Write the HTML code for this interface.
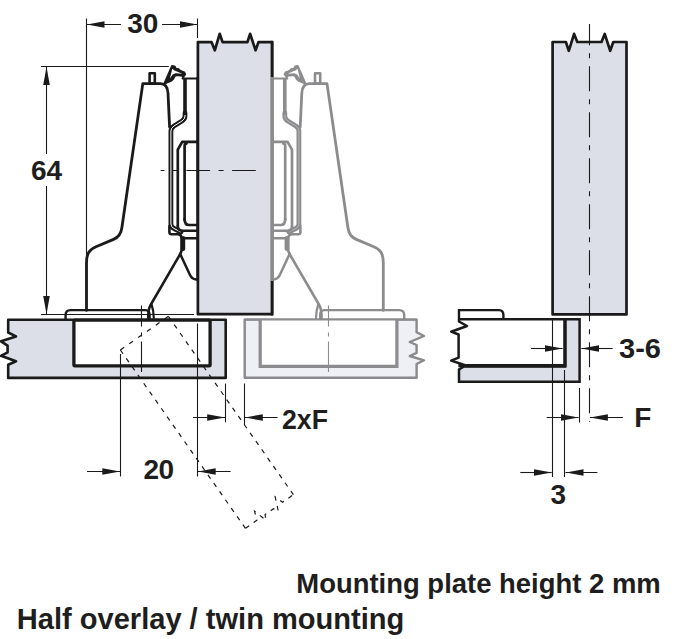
<!DOCTYPE html>
<html><head><meta charset="utf-8">
<style>
html,body{margin:0;padding:0;background:#fff;}
svg{display:block;}
text{font-family:"Liberation Sans",sans-serif;font-weight:bold;fill:#1e1e1e;}
</style></head><body>
<svg width="680" height="639" viewBox="0 0 680 639">
<defs>
<marker id="ar" viewBox="0 0 18 6.6" refX="18" refY="3.3" markerWidth="18" markerHeight="6.6" markerUnits="userSpaceOnUse" orient="auto-start-reverse">
<path d="M0,0 L18,3.3 L0,6.6 Z" fill="#1a1a1a"/>
</marker>
</defs>

<!-- ===== LEFT CABINET (black) ===== -->
<path d="M8.2,319.8 L225.7,319.8 L225.7,377.9 L8.2,377.9 L8.2,364.8 L16,361.3 L1,355.8 L7.6,352.3 L7.6,345.6 L1,341.3 L16,336.4 L8.2,332.5 Z" fill="#dcdfe7" stroke="#1a1a1a" stroke-width="2.6" stroke-linejoin="round"/>
<rect x="73.9" y="320.1" width="136.2" height="45.7" rx="1" fill="#fff" stroke="#1a1a1a" stroke-width="3.3"/>

<!-- ===== RIGHT CABINET (gray) ===== -->
<path d="M244.7,319.6 L416.6,319.6 L416.6,332.2 L424,336 L409.8,342 L416.6,345 L416.6,352.8 L409.8,356 L424,360.3 L416.6,364 L416.6,377.8 L244.7,377.8 Z" fill="#eef0f5" stroke="#8a8a8d" stroke-width="2.4" stroke-linejoin="round"/>
<path d="M260.2,319.6 L260.2,366.3 L396.9,366.3 L396.9,319.6 Z" fill="#fff" stroke="none"/>
<path d="M260.2,319.6 L260.2,366.3 L396.9,366.3 L396.9,319.6" fill="none" stroke="#8c8c8e" stroke-width="3.2"/>
<line x1="244.7" y1="319.6" x2="416.6" y2="319.6" stroke="#8c8c8e" stroke-width="2"/>

<!-- ===== LEFT DOOR ===== -->
<path d="M197.9,314.2 L197.9,42.1 L211.5,42.1 L214.8,50.3 L219.7,33.8 L222.6,42.1 L247.4,42.1 L250.1,33.8 L255.6,50.3 L258.5,42.1 L272.1,42.1 L272.1,314.2 Z" fill="#dcdfe7" stroke="#1a1a1a" stroke-width="2.7" stroke-linejoin="round"/>

<!-- ===== HINGE (black) ===== -->
<defs><g id="hinge" fill="none" stroke-linejoin="round" stroke-linecap="round">
  <!-- mounting plate -->
  <path d="M65.6,319 L65.6,315 Q65.6,310.1 70.5,310.1 L145.5,310.1 Q149.6,310.1 149.6,315 L149.6,319" stroke-width="2.4"/>
  <!-- arm body -->
  <path d="M86.5,310.4 L86.5,263 C86.5,253 89.5,249.5 96,246.8 L113.5,239.4 C119.5,237 121.2,233 121.9,227.5 L142.8,83.6 L160.5,83.6 C165.5,83.6 167.6,87.5 168,93 L169.6,127" stroke-width="2.8"/>
  <!-- peg -->
  <rect x="149.6" y="73.3" width="5.2" height="10.3" stroke-width="2.6"/>
  <!-- clip -->
  <path d="M164.4,84 L172.1,66.2 L174.5,66.6 L175.8,69.3 L178.3,69.2 L179.6,70.6 L181.5,71.5 L184.2,72.6 L185,74.5 L183.6,75.8 L180.5,75.4 L176.5,74.9 L174.5,76 L173.2,78.6 L171,80.6 L166.5,82.4 Z" fill="currentColor" stroke-width="2.3"/>
  <path d="M172.3,68.8 L169.9,78.4 L172.6,74.6 L175.6,73.2 L182.2,73.7 L176.4,71.3 L174.4,70.6 Z" fill="#fff" stroke="none"/>
  <!-- door edge cover -->
  <path d="M197.7,77 L197.7,281" stroke-width="2.7" stroke-linecap="butt"/>
  <!-- door plate top -->
  <path d="M183.4,75.9 Q182.4,77.6 184,78.3 M182.5,78.4 L197,78.4" stroke-width="2"/>
  <!-- sheet arm double line -->
  <path d="M185,78.5 L185,116" stroke-width="3.6" stroke-linecap="butt"/>
  <path d="M185,113 L185,116 Q185,119 182,121 L174,126 Q170.9,128 170.9,131 L170.9,224 Q170.9,227 174,228.5 L181,232" stroke-width="4.8"/>
  <path d="M185,115 L185,116 Q185,119 182,121 L174,126 Q170.9,128 170.9,131 L170.9,224 Q170.9,227 174,228.5 L181,232" style="stroke:var(--gap,#fff)" stroke-width="1" stroke-linecap="butt"/>
  <!-- outer bottom -->
  <path d="M169.4,226 L169.4,232 Q169.4,234.2 171.5,234.2 L178.1,234.2 Q181.5,234.5 181.5,238 L181.5,251 L180.2,254" stroke-width="2.6"/>
  <!-- inner cup-side piece -->
  <path d="M177.8,226 L177.8,149.6 L182.2,141.8 L197,141.8" stroke-width="2.7"/>
  <path d="M184.6,220 L184.6,146 Q184.6,143.6 186.5,143.6" stroke-width="2.7"/>
  <path d="M184.6,219 Q184.6,225 189,225 L197,225" stroke-width="2.7"/>
  <path d="M177.8,226 Q178,230.7 182,230.7 L197,230.7" stroke-width="2.6"/>
  <path d="M185,238.2 L197,238.2" stroke-width="2.6"/>
  <path d="M183.2,238 L183.2,249" stroke-width="4"/>
  <!-- link -->
  <path d="M180.2,254 L150.6,305 Q148.2,309 148.2,318" stroke-width="2.5"/>
  <path d="M151.4,304 Q153.6,310 153.8,318" stroke-width="2.2"/>
  <path d="M180.2,254 L190,275 Q192,279.4 196.5,279.4" stroke-width="2.5"/>
</g></defs>
<use href="#hinge" stroke="#1a1a1a" color="#1a1a1a"/>
<g stroke="#8c8c8e" color="#8c8c8e" style="--gap:#b4b4b6"><use href="#hinge" transform="translate(469.8,0) scale(-1,1)"/></g>

<!-- left door right edge black segments -->
<line x1="272.1" y1="281" x2="272.1" y2="315.5" stroke="#1a1a1a" stroke-width="2.6"/>
<line x1="272.1" y1="40.8" x2="272.1" y2="77" stroke="#1a1a1a" stroke-width="2.6"/>

<!-- ===== CENTER LINES ===== -->
<line x1="160.7" y1="170.5" x2="258" y2="170.5" stroke="#1a1a1a" stroke-width="1.1" stroke-dasharray="23.7 8.5 5 8.5" stroke-dashoffset="20"/>
<line x1="141.5" y1="305.6" x2="141.5" y2="372" stroke="#1a1a1a" stroke-width="1.1" stroke-dasharray="21 6 4 5 40"/>
<line x1="328.5" y1="305.6" x2="328.5" y2="372" stroke="#8c8c8e" stroke-width="1.1" stroke-dasharray="21 6 4 5 40"/>

<!-- ===== DASHED OPEN DOOR ===== -->
<g transform="matrix(0.8188,-0.5741,0.5741,0.8188,120.4,350)" fill="none" stroke="#1a1a1a" stroke-width="1.2">
  <path d="M0,0 L58.6,0" stroke-dasharray="4.6 6.2"/>
  <path d="M58.6,0 L58.6,217.8" stroke-dasharray="4.6 5.56"/>
  <path d="M0,0 L0,217.8" stroke-dasharray="4.6 5.56"/>
  <path d="M0,217.8 L14,217.8 L17.3,209.1 L21.5,222.8 L24,217.8 L34.2,217.8 L36.7,222.8 L42.4,209.1 L45.5,217.8 L58.6,217.8" stroke-dasharray="4.6 5.4"/>
</g>

<!-- ===== DIMENSIONS LEFT ===== -->
<g stroke="#1a1a1a" stroke-width="1.1" fill="none">
  <!-- 30 -->
  <line x1="86.5" y1="18.5" x2="86.5" y2="310"/>
  <line x1="197.5" y1="18.5" x2="197.5" y2="38"/>
  <line x1="121" y1="24.5" x2="86.5" y2="24.5" marker-end="url(#ar)"/>
  <line x1="162" y1="24.5" x2="197.5" y2="24.5" marker-end="url(#ar)"/>
  <!-- 64 -->
  <line x1="41" y1="66.5" x2="168.8" y2="66.5"/>
  <line x1="41" y1="314.5" x2="194" y2="314.5"/>
  <line x1="46.5" y1="154" x2="46.5" y2="67" marker-end="url(#ar)"/>
  <line x1="46.5" y1="186" x2="46.5" y2="314" marker-end="url(#ar)"/>
  <!-- 20 -->
  <line x1="120.5" y1="354" x2="120.5" y2="476.5"/>
  <line x1="197.5" y1="323.5" x2="197.5" y2="476.5"/>
  <line x1="87" y1="471.5" x2="120.3" y2="471.5" marker-end="url(#ar)"/>
  <line x1="230.6" y1="471.5" x2="197.7" y2="471.5" marker-end="url(#ar)"/>
  <!-- 2xF -->
  <line x1="225.5" y1="383.5" x2="225.5" y2="422.4"/>
  <line x1="244.5" y1="383.5" x2="244.5" y2="425"/>
  <line x1="193" y1="417.5" x2="225.2" y2="417.5" marker-end="url(#ar)"/>
  <line x1="277.6" y1="417.5" x2="244.8" y2="417.5" marker-end="url(#ar)"/>
</g>
<text id="t30" x="127.3" y="32.9" font-size="28">30</text>
<text id="t64" x="31" y="180.4" font-size="28">64</text>
<text id="t20" x="143.6" y="478.5" font-size="28" textLength="30.5">20</text>
<text id="t2xf" x="282" y="428.7" font-size="28" textLength="46" lengthAdjust="spacingAndGlyphs">2xF</text>

<!-- ===== RIGHT SECTION ===== -->
<path d="M552.6,314.4 L552.6,42 L565.9,42 L568.8,50.8 L574.1,33.9 L577.3,42 L601.5,42 L604.7,33.9 L610.2,50.8 L613.3,42 L626.5,42 L626.5,314.4 Z" fill="#dcdfe7" stroke="#1a1a1a" stroke-width="2.7" stroke-linejoin="round"/>
<!-- mounting plate -->
<path d="M459,319 L459,310.1 L499,310.1 Q503.4,310.1 503.4,315 L503.4,319" fill="#fff" stroke="#1a1a1a" stroke-width="2.4"/>
<!-- L gray -->
<path d="M464,366.5 L565,366.5 L565,319.3 L579.6,319.3 L579.6,381.8 L459,381.8 L459,369.5 Z" fill="#dcdfe7" stroke="#1a1a1a" stroke-width="2.5"/>
<!-- white block outline -->
<path d="M565,319.3 L459,319.3 L459,321.5 L467,326 L451.2,331.7 L458.6,334.5 L458.6,357.7 L451.2,360.6 L466,365.5" fill="none" stroke="#1a1a1a" stroke-width="2.5" stroke-linejoin="round"/>
<path d="M458.4,365.6 L565,365.6 L565,319.3" fill="none" stroke="#1a1a1a" stroke-width="3.4"/>
<!-- right dims -->
<g stroke="#1a1a1a" stroke-width="1.1" fill="none">
  <line x1="589.5" y1="24" x2="589.5" y2="422" stroke-dasharray="25 8 5 8" stroke-dashoffset="3.8"/>
  <line x1="552.5" y1="318" x2="552.5" y2="477"/>
  <line x1="564.5" y1="370" x2="564.5" y2="477"/>
  <line x1="579.5" y1="388" x2="579.5" y2="422.6"/>
  <line x1="531" y1="348.5" x2="562.6" y2="348.5" marker-end="url(#ar)"/>
  <line x1="612.6" y1="348.5" x2="581.4" y2="348.5" marker-end="url(#ar)"/>
  <line x1="546.7" y1="417.5" x2="578.6" y2="417.5" marker-end="url(#ar)"/>
  <line x1="622.9" y1="417.5" x2="589.9" y2="417.5" marker-end="url(#ar)"/>
  <line x1="520.3" y1="472.5" x2="551.7" y2="472.5" marker-end="url(#ar)"/>
  <line x1="597.4" y1="472.5" x2="565.5" y2="472.5" marker-end="url(#ar)"/>
</g>
<text id="t36" x="619" y="358" font-size="28" textLength="42" lengthAdjust="spacingAndGlyphs">3-6</text>
<text id="tf" x="634.2" y="427.4" font-size="28">F</text>
<text id="t3" x="550.5" y="504.3" font-size="28">3</text>

<!-- ===== BOTTOM TEXT ===== -->
<text x="296.3" y="593" font-size="27.6" fill="#1c1c24" textLength="364.4" lengthAdjust="spacingAndGlyphs">Mounting plate height 2 mm</text>
<text x="16.8" y="629" font-size="29.2" fill="#0e0e0e" textLength="387.5" lengthAdjust="spacingAndGlyphs">Half overlay / twin mounting</text>
</svg>
</body></html>
